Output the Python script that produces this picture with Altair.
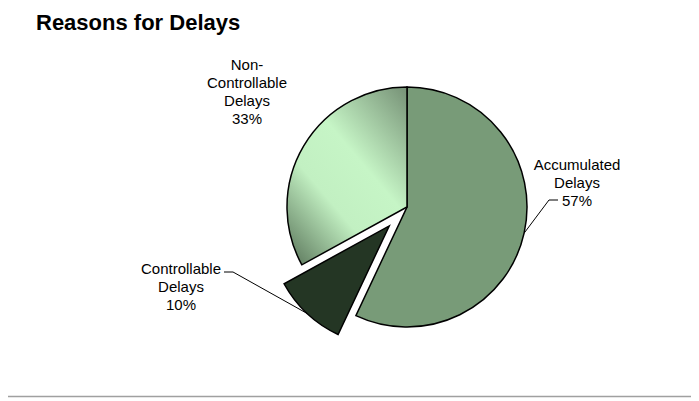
import math
import altair as alt
import pandas as pd

# ---- data ----
categories = ["Accumulated Delays", "Controllable Delays", "Non-Controllable Delays"]
percents = [57, 10, 33]
label_texts = ["Accumulated\nDelays\n57%", "Controllable\nDelays\n10%", "Non-\nControllable\nDelays\n33%"]
title_text = "Reasons for Delays"

# ---- layout / style (pixels, chart coordinates) ----
W, H = 683, 393
CX, CY, R = 399, 199, 120
EXPLODE = {"Controllable Delays": 26}
SOLID = {"Accumulated Delays": "#789b78", "Controllable Delays": "#243624"}
LABEL_POS = {  # centre x, centre y of first line
    "Accumulated Delays": (569, 157),
    "Controllable Delays": (173, 261),
    "Non-Controllable Delays": (239, 57),
}
LEADER = {  # elbow x, elbow y, end x
    "Accumulated Delays": (541, 192, 550),
    "Controllable Delays": (225, 264, 216),
}
FONT = "Liberation Sans"

total = sum(percents)
slices = []
cum = 0
for cat, p, lab in zip(categories, percents, label_texts):
    t0 = 2 * math.pi * cum / total
    cum += p
    t1 = 2 * math.pi * cum / total
    mid = (t0 + t1) / 2
    e = EXPLODE.get(cat, 0)
    px = CX + e * math.sin(mid)
    py = CY - e * math.cos(mid)
    lx, ly = LABEL_POS[cat]
    slices.append(dict(category=cat, pct=p, label=lab, t0=t0, t1=t1, mid=mid,
                       px=px, py=py, lx=lx, ly=ly))
df = pd.DataFrame(slices)

segs = []
for s in slices:
    if s["category"] in LEADER:
        ex, ey, endx = LEADER[s["category"]]
        sx = s["px"] + R * math.sin(s["mid"])
        sy = s["py"] - R * math.cos(s["mid"])
        segs.append(dict(x=sx, y=sy, x2=ex, y2=ey))
        segs.append(dict(x=ex, y=ey, x2=endx, y2=ey))
seg_df = pd.DataFrame(segs)

pos = dict(
    theta=alt.Theta("t0:Q", scale=None, stack=None),
    theta2=alt.Theta2("t1:Q"),
    x=alt.X("px:Q", scale=None, axis=None),
    y=alt.Y("py:Q", scale=None, axis=None),
)

solid = alt.Chart(df).transform_filter(
    alt.FieldOneOfPredicate(field="category", oneOf=list(SOLID.keys()))
).mark_arc(outerRadius=R, stroke="black", strokeWidth=1.5).encode(
    color=alt.Color("category:N", legend=None,
                    scale=alt.Scale(domain=list(SOLID.keys()), range=list(SOLID.values()))),
    **pos,
)

grad = alt.LinearGradient(
    gradient="linear",
    stops=[
        alt.GradientStop(color="#7a967a", offset=0),
        alt.GradientStop(color="#c6f5c6", offset=0.42),
        alt.GradientStop(color="#c2f0c2", offset=0.68),
        alt.GradientStop(color="#6a886a", offset=1),
    ],
    x1=0.95, y1=0.0, x2=0.15, y2=1.0,
)
gradient_slice = alt.Chart(df).transform_filter(
    alt.datum.category == "Non-Controllable Delays"
).mark_arc(outerRadius=R, stroke="black", strokeWidth=1.5, fill=grad).encode(**pos)

leaders = alt.Chart(seg_df).mark_rule(color="black", strokeWidth=1).encode(
    x=alt.X("x:Q", scale=None, axis=None),
    y=alt.Y("y:Q", scale=None, axis=None),
    x2="x2:Q",
    y2="y2:Q",
)

labels = alt.Chart(df).mark_text(
    font=FONT, fontSize=15, lineHeight=18, lineBreak="\n",
    align="center", baseline="middle", color="black",
).encode(
    x=alt.X("lx:Q", scale=None, axis=None),
    y=alt.Y("ly:Q", scale=None, axis=None),
    text="label:N",
)

title = alt.Chart(pd.DataFrame({"t": [title_text]})).mark_text(
    font=FONT, fontSize=22, fontWeight="bold", align="left", baseline="alphabetic",
    color="black",
).encode(x=alt.value(28), y=alt.value(22), text="t:N")

border = alt.Chart(pd.DataFrame({"a": [0]})).mark_rule(color="#a0a0a0", strokeWidth=1.5).encode(
    x=alt.value(-10), x2=alt.value(W + 10), y=alt.value(388.5)
)

chart = alt.layer(solid, gradient_slice, leaders, labels, title, border).properties(
    width=W, height=H, padding=0, autosize=alt.AutoSizeParams(type="none"),
).configure_view(stroke=None)

chart.save("out.html", embed_options={"renderer": "svg", "actions": False})
